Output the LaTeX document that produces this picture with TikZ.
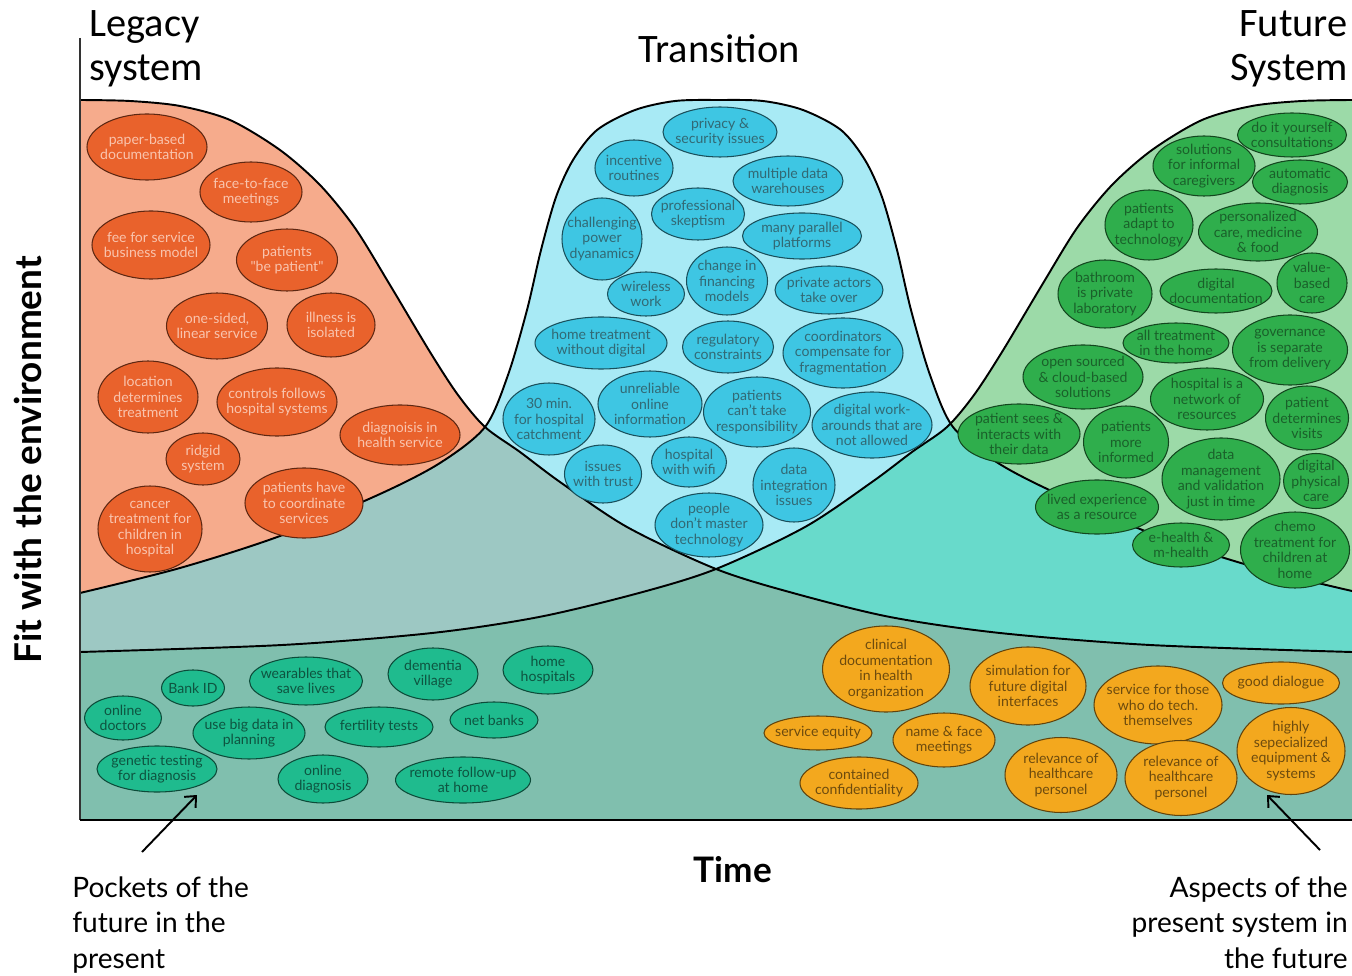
\documentclass[tikz,border=0pt]{standalone}
\usepackage{fontspec}
\setmainfont{Lato}
\newfontfamily\headfont{Carlito}
\usetikzlibrary{arrows.meta,shapes.geometric}

\definecolor{oldbg}{HTML}{F6AB8C}
\definecolor{midbg}{HTML}{A8EAF5}
\definecolor{newbg}{HTML}{9CDAA8}
\definecolor{oldmid}{HTML}{9DC8C3}
\definecolor{newmid}{HTML}{68DACB}
\definecolor{basebg}{HTML}{80BFAE}
\definecolor{oldfill}{HTML}{E9622C}
\definecolor{midfill}{HTML}{3EC6E3}
\definecolor{newfill}{HTML}{2FAE4C}
\definecolor{pktfill}{HTML}{1FBB8E}
\definecolor{aspfill}{HTML}{F3A81E}

\def\legacyline{plot[smooth] coordinates {(80,100) (130,101) (180,106) (230,120) (280,150) (320,185) (355,228) (390,285) (430,352) (458,395) (485,427) (520,452) (560,482) (627,527) (716,569) (793,593) (890,617) (1000,633) (1150,645) (1352,652)}}
\def\futureline{plot[smooth] coordinates {(80,652) (282,645) (432,633) (539,617) (639,593) (716,569) (805,527) (872,482) (912,452) (947,427) (974,395) (1002,352) (1042,285) (1077,228) (1112,185) (1152,150) (1202,120) (1252,106) (1302,101) (1352,100)}}
\def\transline{plot[smooth] coordinates {(80,593) (180,568) (280,536) (380,494) (440,463) (485,427) (508,375) (527,310) (541,250) (556,197) (573,160) (597,130) (635,110) (675,101) (719,100) (763,101) (803,110) (841,130) (865,160) (882,197) (897,250) (911,310) (930,375) (953,427) (998,463) (1058,494) (1158,536) (1258,568) (1352,591)}}

\begin{document}
\begin{tikzpicture}[x=0.02cm, y=-0.02cm,
	bubble/.style={ellipse, draw=#1!40!black, fill=#1, line width=0.6pt, inner xsep=-8pt, inner ysep=-3pt, align=center, font=\fontsize{8}{8.8}\selectfont},
	old/.style={bubble=oldfill, text=oldbg!70!white},
	mid/.style={bubble=midfill, text=midfill!50!black!80!gray},
	new/.style={bubble=newfill, text=newfill!55!black},
	pkt/.style={bubble=pktfill, text=pktfill!45!black},
	asp/.style={bubble=aspfill, text=aspfill!45!black},
	wh/.style 2 args={minimum width=#1*0.02cm, minimum height=#2*0.02cm},
	curve/.style={line width=1.1pt, black},
	head/.style={inner sep=0pt, font=\headfont\fontsize{23}{25}\selectfont},
	note/.style={inner sep=0pt, font=\fontsize{16}{20.4}\selectfont},
	pointer/.style={line width=1.1pt, -{Straight Barb[length=5pt,width=9pt]}}]
	\useasboundingbox (0,0) rectangle (1352,976);

	\fill[oldbg] \legacyline -- (1352,820) -- (80,820) -- cycle;
	\fill[newbg] \futureline -- (1352,820) -- (80,820) -- cycle;
	\fill[midbg] \transline -- (1352,820) -- (80,820) -- cycle;
	\begin{scope}
		\clip \transline -- (1352,820) -- (80,820) -- cycle;
		\fill[oldmid] \legacyline -- (1352,820) -- (80,820) -- cycle;
		\fill[newmid] \futureline -- (1352,820) -- (80,820) -- cycle;
	\end{scope}
	\begin{scope}
		\clip \legacyline -- (1352,820) -- (80,820) -- cycle;
		\fill[basebg] \futureline -- (1352,820) -- (80,820) -- cycle;
	\end{scope}

	\draw[curve] \transline;
	\draw[curve] \legacyline;
	\draw[curve] \futureline;
	\draw[line width=0.9pt, black!80] (80,38) -- (80,820);
	\draw[line width=1.6pt] (80,820) -- (1352,820);

	\node[old, wh={120}{66}] (paper) at (147,147) {paper-based\\documentation};
	\node[old, wh={102}{60}] (face) at (251,192) {face-to-face\\meetings};
	\node[old, wh={118}{68}] (fee) at (151,245) {fee for service\\business model};
	\node[old, wh={101}{62}] (bepatient) at (287,260) {patients\\\textquotedbl be patient\textquotedbl};
	\node[old, wh={101}{66}] (onesided) at (217,326) {one-sided,\\linear service};
	\node[old, wh={88}{64}] (illness) at (331,325) {illness is\\isolated};
	\node[old, wh={100}{72}] (location) at (148,397) {location\\determines\\treatment};
	\node[old, wh={120}{68}] (controls) at (277,402) {controls follows\\hospital systems};
	\node[old, wh={120}{60}] (diagnoisis) at (400,435) {diagnoisis in\\health service};
	\node[old, wh={74}{52}] (ridgid) at (203,459) {ridgid\\system};
	\node[old, wh={118}{70}] (coordinate) at (304,503) {patients have\\to coordinate\\services};
	\node[old, wh={104}{86}] (cancer) at (150,529) {cancer\\treatment for\\children in\\hospital};

	\node[mid, wh={114}{50}] (privacy) at (720,132) {privacy \&\\security issues};
	\node[mid, wh={78}{56}] (incentive) at (634,168) {incentive\\routines};
	\node[mid, wh={110}{50}] (warehouses) at (788,181) {multiple data\\warehouses};
	\node[mid, wh={93}{52}] (skeptism) at (698,214) {professional\\skeptism};
	\node[mid, wh={80}{82}] (power) at (602,239) {challenging\\power\\dyanamics};
	\node[mid, wh={119}{46}] (parallel) at (802,236) {many parallel\\platforms};
	\node[mid, wh={81}{68}] (financing) at (727,281) {change in\\financing\\models};
	\node[mid, wh={77}{44}] (wireless) at (646,294) {wireless\\work};
	\node[mid, wh={108}{48}] (private) at (829,290) {private actors\\take over};
	\node[mid, wh={132}{52}] (hometreat) at (601,343) {home treatment\\without digital};
	\node[mid, wh={91}{52}] (regulatory) at (728,347) {regulatory\\constraints};
	\node[mid, wh={120}{70}] (coordinators) at (843,353) {coordinators\\compensate for\\fragmentation};
	\node[mid, wh={92}{72}] (catchment) at (549,419) {30 min.\\for hospital\\catchment};
	\node[mid, wh={104}{66}] (unreliable) at (650,404) {unreliable\\online\\information};
	\node[mid, wh={107}{70}] (responsibility) at (757,412) {patients\\can't take\\responsibility};
	\node[mid, wh={120}{66}] (workarounds) at (872,425) {digital work-\\arounds that are\\not allowed};
	\node[mid, wh={77}{58}] (trust) at (603,474) {issues\\with trust};
	\node[mid, wh={75}{50}] (wifi) at (689,462) {hospital\\with wifi};
	\node[mid, wh={82}{74}] (integration) at (794,485) {data\\integration\\issues};
	\node[mid, wh={108}{64}] (master) at (709,525) {people\\don't master\\technology};

	\node[new, wh={109}{44}] (diy) at (1292,135) {do it yourself\\consultations};
	\node[new, wh={102}{60}] (informal) at (1204,166) {solutions\\for informal\\caregivers};
	\node[new, wh={95}{44}] (autodiag) at (1300,182) {automatic\\diagnosis};
	\node[new, wh={88}{70}] (adapt) at (1149,225) {patients\\adapt to\\technology};
	\node[new, wh={119}{58}] (personal) at (1258,232) {personalized\\care, medicine\\\& food};
	\node[new, wh={94}{68}] (bathroom) at (1105,294) {bathroom\\is private\\laboratory};
	\node[new, wh={112}{44}] (digidoc) at (1216,291) {digital\\documentation};
	\node[new, wh={70}{60}] (valuebased) at (1312,283) {value-\\based\\care};
	\node[new, wh={106}{40}] (allhome) at (1176,343) {all treatment\\in the home};
	\node[new, wh={115}{70}] (governance) at (1290,350) {governance\\is separate\\from delivery};
	\node[new, wh={120}{64}] (opensource) at (1083,377) {open sourced\\\& cloud-based\\solutions};
	\node[new, wh={113}{62}] (network) at (1207,399) {hospital is a\\network of\\resources};
	\node[new, wh={83}{64}] (visits) at (1307,418) {patient\\determines\\visits};
	\node[new, wh={122}{60}] (seesdata) at (1019,434) {patient sees \&\\interacts with\\their data};
	\node[new, wh={85}{72}] (informed) at (1126,442) {patients\\more\\informed};
	\node[new, wh={118}{82}] (datamgmt) at (1221,479) {data\\management\\and validation\\just in time};
	\node[new, wh={65}{55}] (physical) at (1316,481) {digital\\physical\\care};
	\node[new, wh={123}{54}] (lived) at (1097,507) {lived experience\\as a resource};
	\node[new, wh={97}{44}] (ehealth) at (1181,545) {e-health \&\\m-health};
	\node[new, wh={109}{76}] (chemo) at (1295,550) {chemo\\treatment for\\children at\\home};

	\node[pkt, wh={63}{36}] (bankid) at (193,688) {Bank ID};
	\node[pkt, wh={113}{48}] (wearables) at (306,681) {wearables that\\save lives};
	\node[pkt, wh={90}{52}] (dementia) at (433,674) {dementia\\village};
	\node[pkt, wh={90}{48}] (homehosp) at (548,670) {home\\hospitals};
	\node[pkt, wh={77}{44}] (onlinedoc) at (123,718) {online\\doctors};
	\node[pkt, wh={112}{52}] (bigdata) at (249,733) {use big data in\\planning};
	\node[pkt, wh={108}{40}] (fertility) at (379,727) {fertility tests};
	\node[pkt, wh={88}{36}] (netbanks) at (494,720) {net banks};
	\node[pkt, wh={120}{46}] (genetic) at (157,769) {genetic testing\\for diagnosis};
	\node[pkt, wh={90}{48}] (onlinediag) at (323,779) {online\\diagnosis};
	\node[pkt, wh={135}{46}] (remote) at (463,780) {remote follow-up\\at home};

	\node[asp, wh={127}{86}] (clinical) at (886,669) {clinical\\documentation\\in health\\organization};
	\node[asp, wh={116}{78}] (simulation) at (1028,686) {simulation for\\future digital\\interfaces};
	\node[asp, wh={128}{78}] (selftech) at (1158,705) {service for those\\who do tech.\\themselves};
	\node[asp, wh={117}{42}] (dialogue) at (1281,683) {good dialogue};
	\node[asp, wh={108}{34}] (equity) at (818,733) {service equity};
	\node[asp, wh={102}{54}] (nameface) at (944,740) {name \& face\\meetings};
	\node[asp, wh={108}{87}] (equipment) at (1291,751) {highly\\sepecialized\\equipment \&\\systems};
	\node[asp, wh={118}{52}] (confidential) at (859,783) {contained\\confidentiality};
	\node[asp, wh={112}{75}] (relevance) at (1061,775) {relevance of\\healthcare\\personel};
	\node[asp, wh={112}{75}] (relevancetwo) at (1181,778) {relevance of\\healthcare\\personel};

	\node[head, anchor=north west, align=left] (legacy) at (89,10) {Legacy\\system};
	\node[head, anchor=north] (transition) at (719,34) {Transition};
	\node[head, anchor=north east, align=right] (future) at (1348,10) {Future\\System};
	\node[inner sep=0pt, rotate=90, font=\bfseries\fontsize{21}{24}\selectfont] (fit) at (28,460) {Fit with the environment};
	\node[inner sep=0pt, font=\bfseries\fontsize{20}{24}\selectfont] (time) at (733,870) {Time};
	\node[note, anchor=north west, align=left] (pockets) at (72,876) {Pockets of the\\future in the\\present};
	\node[note, anchor=north east, align=right] (aspects) at (1348,876) {Aspects of the\\present system in\\the future};

	\coordinate (pktfrom) at (142,852);
	\coordinate (pktto) at (197,795);
	\coordinate (aspfrom) at (1320,850);
	\coordinate (aspto) at (1267,795);
	\draw[pointer] (pktfrom) -- (pktto);
	\draw[pointer] (aspfrom) -- (aspto);
\end{tikzpicture}
\end{document}
